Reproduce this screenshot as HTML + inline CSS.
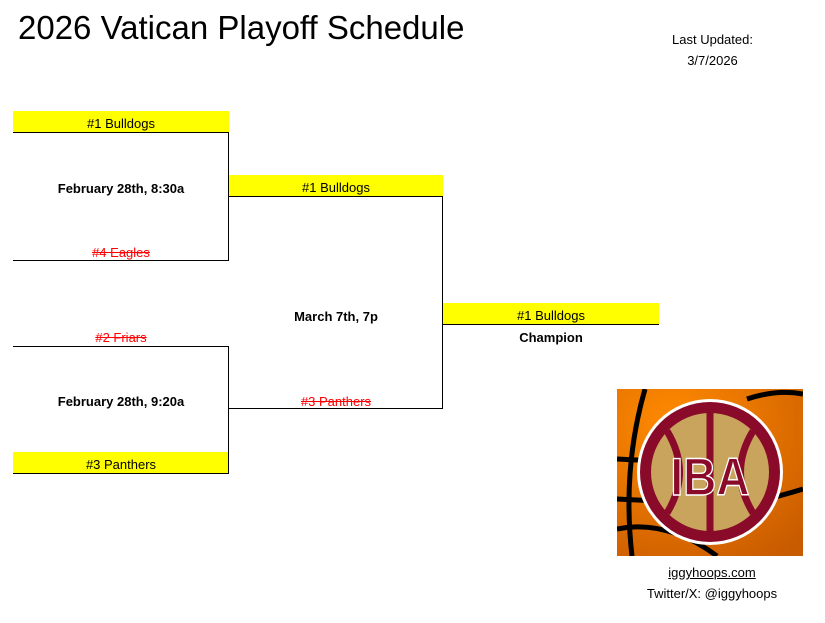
<!DOCTYPE html>
<html><head><style>
body{margin:0;width:825px;height:623px;background:#fff;position:relative;overflow:hidden;font-family:"Liberation Sans",Arial,sans-serif;color:#000}
.a{position:absolute}
.y{position:absolute;background:#ff0;border-bottom:1px solid #000;font-size:13px;text-align:center;line-height:26px;height:21px;overflow:visible}
.t{position:absolute;font-size:13px;text-align:center;width:216px}
.h{position:absolute;height:1px;background:#000}
.v{position:absolute;width:1px;background:#000}
.s{color:#f00;text-decoration:line-through}
b{font-size:13px}
</style></head><body>
<div class="a" style="left:18px;top:9px;font-size:33px">2026 Vatican Playoff Schedule</div>
<div class="a" style="left:640px;top:29px;width:145px;text-align:center;font-size:13px;line-height:21px">Last Updated:<br>3/7/2026</div>

<div class="y" style="left:13px;top:111px;width:216px">#1 Bulldogs</div>
<div class="t" style="left:13px;top:181px"><b>February 28th, 8:30a</b></div>
<div class="t s" style="left:13px;top:245px">#4 Eagles</div>
<div class="h" style="left:13px;top:260px;width:216px"></div>
<div class="v" style="left:228px;top:133px;height:128px"></div>

<div class="t s" style="left:13px;top:330px">#2 Friars</div>
<div class="h" style="left:13px;top:346px;width:216px"></div>
<div class="t" style="left:13px;top:394px"><b>February 28th, 9:20a</b></div>
<div class="y" style="left:13px;top:452px;width:216px">#3 Panthers</div>
<div class="v" style="left:228px;top:346px;height:127px"></div>

<div class="y" style="left:229px;top:175px;width:214px">#1 Bulldogs</div>
<div class="t" style="left:229px;top:309px;width:214px"><b>March 7th, 7p</b></div>
<div class="t s" style="left:229px;top:394px;width:214px">#3 Panthers</div>
<div class="h" style="left:229px;top:408px;width:214px"></div>
<div class="v" style="left:442px;top:197px;height:212px"></div>

<div class="y" style="left:443px;top:303px;width:216px">#1 Bulldogs</div>
<div class="t" style="left:443px;top:330px"><b>Champion</b></div>

<svg class="a" style="left:617px;top:389px" width="186" height="167" viewBox="0 0 186 167">
<defs><radialGradient id="g" cx="0.3" cy="0.2" r="1"><stop offset="0" stop-color="#ff8a00"/><stop offset="1" stop-color="#c85a00"/></radialGradient></defs>
<rect width="186" height="167" fill="url(#g)"/>
<path d="M28 0 Q5 80 15 167" stroke="#000" stroke-width="5" fill="none"/>
<path d="M0 70 L40 72 M0 110 L40 112 M0 140 Q50 130 100 167 M130 10 Q160 0 186 5 M150 110 Q170 105 186 100" stroke="#000" stroke-width="5" fill="none"/>
<circle cx="93" cy="83" r="73" fill="#fff"/>
<circle cx="93" cy="83" r="70" fill="#8a0a2a"/>
<circle cx="93" cy="83" r="59" fill="#c9a45c"/>
<path d="M93 24 V142 M50 42 Q75 83 50 124 M136 42 Q111 83 136 124" stroke="#8a0a2a" stroke-width="7" fill="none"/>
<text x="93" y="104" text-anchor="middle" font-family="Liberation Sans Narrow,Liberation Sans,sans-serif" font-weight="bold" font-size="46" fill="#8a0a2a" stroke="#fff" stroke-width="1.2" transform="translate(93 0) scale(1 1.15) translate(-93 -12)">IBA</text>
</svg>
<div class="a" style="left:617px;top:562px;width:190px;text-align:center;font-size:13px;line-height:21px"><u>iggyhoops.com</u><br>Twitter/X: @iggyhoops</div>
</body></html>
